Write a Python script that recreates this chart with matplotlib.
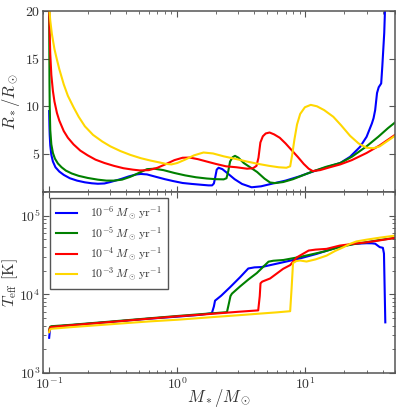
import matplotlib
matplotlib.use('Agg')
import matplotlib.pyplot as plt
from matplotlib.ticker import FixedLocator

# ---------------- data ----------------
labels = [r'$10^{-6}\,M_\odot\,{\rm yr}^{-1}$', r'$10^{-5}\,M_\odot\,{\rm yr}^{-1}$',
          r'$10^{-4}\,M_\odot\,{\rm yr}^{-1}$', r'$10^{-3}\,M_\odot\,{\rm yr}^{-1}$']
colors = ['#0000ff', '#008000', '#ff0000', '#ffd700']

# radius, 1e-6
m_r_6 = [0.1, 0.1005, 0.101, 0.102, 0.104, 0.107, 0.112, 0.12, 0.13, 0.145,
         0.165, 0.19, 0.215, 0.24, 0.27, 0.3, 0.36, 0.42, 0.48, 0.52,
         0.58, 0.68, 0.8, 0.93, 1.1, 1.3, 1.55, 1.75, 1.87, 1.93,
         1.98, 2.03, 2.1, 2.25, 2.5, 2.8, 3.2, 3.8, 4.5, 5.5,
         7.0, 9.0, 11.4, 15, 18.7, 22.3, 26.7, 30, 33, 34,
         35, 36.2, 37.3, 39, 39.8, 41.2, 42.2]
r_6 = [9.5, 8.0, 7.0, 5.9, 4.9, 4.2, 3.6, 3.15, 2.8, 2.45,
       2.2, 2.02, 1.92, 1.87, 1.9, 2.05, 2.35, 2.65, 2.85, 2.9,
       2.85, 2.6, 2.35, 2.15, 1.95, 1.85, 1.76, 1.7, 1.7, 1.9,
       2.6, 3.35, 3.55, 3.4, 2.9, 2.35, 1.85, 1.5, 1.6, 1.88,
       2.2, 2.65, 3.15, 3.65, 4.05, 4.7, 5.75, 6.8, 8.2, 8.75,
       9.6, 11.4, 12.0, 12.4, 14.2, 17.7, 22]

# radius, 1e-5
m_r_5 = [0.1, 0.1003, 0.1006, 0.101, 0.102, 0.104, 0.107, 0.111, 0.117, 0.125,
         0.135, 0.15, 0.17, 0.2, 0.24, 0.28, 0.32, 0.37, 0.43, 0.5,
         0.58, 0.66, 0.78, 0.95, 1.15, 1.4, 1.7, 2.0, 2.3, 2.42,
         2.5, 2.58, 2.7, 2.82, 3.0, 3.3, 3.7, 4.2, 4.8, 5.3,
         5.8, 6.7, 8.0, 9.5, 11.4, 14.5, 18.7, 23, 30, 37,
         44, 50]
r_5 = [20.5, 16, 12.5, 10, 7.5, 6.0, 5.1, 4.5, 4.0, 3.6,
       3.25, 2.95, 2.7, 2.48, 2.3, 2.2, 2.2, 2.3, 2.6, 3.0,
       3.4, 3.45, 3.3, 3.0, 2.75, 2.55, 2.42, 2.35, 2.33, 2.45,
       3.2, 4.2, 4.65, 4.8, 4.6, 4.05, 3.6, 3.1, 2.4, 2.0,
       1.94, 2.05, 2.35, 2.75, 3.16, 3.65, 4.05, 4.7, 5.8, 6.8,
       7.7, 8.3]

# radius, 1e-4
m_r_4 = [0.1, 0.1005, 0.101, 0.102, 0.104, 0.107, 0.11, 0.115, 0.12, 0.13,
         0.14, 0.155, 0.175, 0.2, 0.23, 0.27, 0.32, 0.38, 0.45, 0.51,
         0.6, 0.7, 0.82, 0.95, 1.1, 1.25, 1.45, 1.7, 2.0, 2.4,
         2.9, 3.5, 3.9, 4.15, 4.3, 4.45, 4.65, 4.9, 5.25, 5.7,
         6.3, 7.0, 7.8, 8.7, 9.7, 10.6, 11.4, 13, 15.5, 18.7,
         23, 30, 38, 50]
r_4 = [20.5, 19, 17.5, 15.5, 13.3, 11.6, 10.5, 9.3, 8.5, 7.4,
       6.7, 6.0, 5.35, 4.85, 4.4, 4.05, 3.75, 3.5, 3.35, 3.27,
       3.3, 3.55, 3.95, 4.35, 4.6, 4.62, 4.45, 4.2, 3.95, 3.7,
       3.6, 3.45, 3.5, 3.75, 4.6, 6.2, 6.85, 7.15, 7.25, 7.05,
       6.7, 6.1, 5.4, 4.7, 3.95, 3.45, 3.2, 3.3, 3.6, 3.9,
       4.35, 5.1, 5.9, 7.0]

# radius, 1e-3
m_r_3 = [0.1, 0.102, 0.105, 0.11, 0.115, 0.12, 0.13, 0.14, 0.155, 0.17,
         0.19, 0.22, 0.26, 0.3, 0.36, 0.43, 0.52, 0.62, 0.73, 0.82,
         0.9, 1.0, 1.15, 1.35, 1.6, 1.9, 2.3, 2.8, 3.5, 4.3,
         5.2, 6.2, 7.1, 7.6, 7.9, 8.2, 8.6, 9.1, 9.9, 11.0,
         12.3, 14, 16.5, 19, 22.3, 26, 30, 34, 38, 43,
         50]
r_3 = [20.5, 19, 17.6, 16.0, 14.9, 13.9, 12.3, 11.1, 9.9, 8.9,
       7.9, 7.0, 6.3, 5.8, 5.3, 4.9, 4.55, 4.3, 4.1, 3.95,
       3.9, 4.05, 4.4, 4.85, 5.15, 5.05, 4.75, 4.5, 4.2, 3.95,
       3.75, 3.6, 3.55, 3.7, 5.0, 6.5, 8.1, 9.2, 9.9, 10.15,
       10.0, 9.6, 8.9, 8.0, 6.9, 6.1, 5.65, 5.6, 5.8, 6.3,
       6.9]

# effective temperature, 1e-6
m_t_6 = [0.1, 0.101, 0.102, 0.104, 0.15, 0.3, 0.6, 1.0, 1.5, 1.86,
         1.93, 1.97, 2.2, 2.58, 3.09, 3.58, 4.0, 4.54, 5.5, 6.73,
         9.0, 12.2, 16, 20, 24, 30, 33, 35, 36.5, 38,
         40.2, 41, 42]
t_6 = [2800, 3300, 3700, 3850, 4060, 4450, 4900, 5200, 5480, 5750,
       7000, 8300, 9600, 12300, 16500, 21300, 22000, 22200, 23800, 25600,
       28500, 32600, 37500, 41500, 43800, 44600, 44500, 44000, 41800, 39800,
       39000, 33000, 4400]

# effective temperature, 1e-5
m_t_5 = [0.1, 0.101, 0.102, 0.104, 0.15, 0.3, 0.6, 1.0, 1.5, 2.0,
         2.44, 2.52, 2.6, 2.67, 3.09, 3.6, 4.17, 4.7, 5.15, 5.6,
         6.73, 9.0, 10.9, 14, 18.5, 24, 30, 38, 50]
t_5 = [3500, 3750, 3880, 3930, 4100, 4500, 4950, 5300, 5580, 5780,
       5930, 7500, 9500, 10200, 12600, 15500, 18600, 22500, 26000, 26700,
       27300, 29800, 31900, 35000, 40000, 43500, 46000, 49000, 52100]

# effective temperature, 1e-4
m_t_4 = [0.1, 0.101, 0.102, 0.104, 0.15, 0.3, 0.6, 1.0, 1.5, 2.0,
         3.0, 4.28, 4.4, 4.46, 4.6, 5.3, 6.7, 7.6, 8.6, 10.6,
         12, 14.6, 18.5, 24, 30, 38, 50]
t_4 = [3400, 3650, 3800, 3850, 4050, 4450, 4900, 5250, 5500, 5700,
       6000, 6250, 9500, 13800, 14500, 15900, 21100, 23500, 29600, 36000,
       37000, 37800, 41600, 44000, 45800, 48500, 52100]

# effective temperature, 1e-3
m_t_3 = [0.1, 0.101, 0.102, 0.104, 0.15, 0.3, 0.6, 1.0, 1.5, 2.0,
         3.0, 4.5, 6.0, 7.6, 7.8, 8.0, 8.5, 9.08, 10.2, 12,
         14.6, 17, 19.8, 22.3, 25, 30, 38, 50]
t_3 = [3300, 3500, 3600, 3650, 3830, 4160, 4520, 4750, 4990, 5170,
       5420, 5700, 5900, 6100, 12000, 25000, 26500, 26900, 26100, 27800,
       31000, 35500, 39700, 43800, 47000, 49500, 52500, 55700]

radius_series = [(m_r_6, r_6), (m_r_5, r_5), (m_r_4, r_4), (m_r_3, r_3)]
teff_series = [(m_t_6, t_6), (m_t_5, t_5), (m_t_4, t_4), (m_t_3, t_3)]

r_ticks = [5, 10, 15, 20]

# ---------------- style ----------------
plt.rcParams.update({
    'font.family': 'serif',
    'font.serif': ['cmr10'],
    'mathtext.fontset': 'cm',
    'axes.unicode_minus': False,
    'axes.formatter.use_mathtext': True,
})
spine_c = '#555555'
text_c = '#333333'

fig = plt.figure(figsize=(3.99, 4.13), dpi=100)
ax1 = fig.add_axes([0.1085, 0.535, 0.8815, 0.4383])
ax2 = fig.add_axes([0.1085, 0.0969, 0.8815, 0.4383], sharex=ax1)

for (m, r), c in zip(radius_series, colors):
    ax1.plot(m, r, color=c, lw=1.5)
for (m, t), c, lab in zip(teff_series, colors, labels):
    ax2.plot(m, t, color=c, lw=1.5, label=lab)

ax1.set_xscale('log')
ax1.set_xlim(0.09, 50)
ax1.set_ylim(1, 20)
ax1.yaxis.set_major_locator(FixedLocator(r_ticks))
ax2.set_yscale('log')
ax2.set_ylim(1e3, 2e5)

for ax in (ax1, ax2):
    for s in ax.spines.values():
        s.set_color(spine_c)
        s.set_linewidth(1.1)
    ax.tick_params(which='both', direction='in', top=True, right=True,
                   colors=spine_c, labelcolor=text_c, labelsize=10)
    ax.tick_params(which='major', length=4, width=0.8)
    ax.tick_params(which='minor', length=2, width=0.6)
    ax.tick_params(axis='y', pad=2)
ax2.tick_params(axis='x', pad=2.5)
plt.setp(ax1.get_xticklabels(), visible=False)

ax1.set_ylabel(r'$R_*/R_\odot$', fontsize=12, color=text_c)
ax2.set_ylabel(r'$T_{\rm eff}$ [K]', fontsize=11.5, color=text_c)
ax2.set_xlabel(r'$M_*/M_\odot$', fontsize=12, color=text_c)
ax1.yaxis.set_label_coords(-0.06, 0.5)
ax2.yaxis.set_label_coords(-0.066, 0.5)
ax2.xaxis.set_label_coords(0.5, -0.075)

leg = ax2.legend(loc='upper left', fontsize=8.5, frameon=True, fancybox=False,
                 edgecolor=spine_c, framealpha=1, handlelength=1.8,
                 handletextpad=1.1, labelspacing=0.25, borderpad=0.5,
                 borderaxespad=0.55)
leg.get_frame().set_linewidth(1.0)
for t in leg.get_texts():
    t.set_color(text_c)

fig.savefig('out.png', dpi=100)
